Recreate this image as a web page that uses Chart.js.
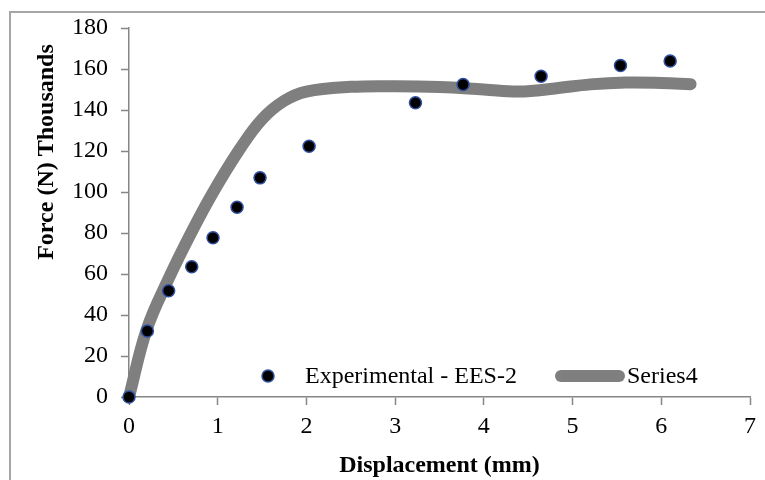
<!DOCTYPE html>
<html>
<head>
<meta charset="utf-8">
<title>Force vs Displacement</title>
<script src="https://cdn.jsdelivr.net/npm/chart.js@4/dist/chart.umd.min.js"></script>
<style>
  html, body { margin: 0; padding: 0; background: #fff; }
  #wrap { position: relative; width: 765px; height: 480px; overflow: hidden; }
  #frame { position: absolute; left: 9px; top: 11px; width: 900px; height: 600px;
           border-left: 2px solid #a6a6a6; border-top: 2px solid #a6a6a6; }
  #chart { position: absolute; left: 0; top: 0; }
</style>
</head>
<body>
<div id="wrap">
  <div id="frame"></div>
  <canvas id="chart" width="765" height="480"></canvas>
</div>
<script>
// ─── Data ──────────────────────────────────────────────────────────────────
const EXP_X = [0, 0.207, 0.447, 0.707, 0.947, 1.218, 1.477, 2.03, 3.229, 3.766, 4.645, 5.54, 6.10];
const EXP_Y = [0, 32.2, 51.8, 63.5, 77.7, 92.6, 106.9, 122.3, 143.5, 152.4, 156.5, 161.7, 163.9];

const S4_X = [0, 0.2, 0.45, 0.7, 0.95, 1.25, 1.5, 1.75, 2.0, 2.5, 3.0, 3.5, 4.0, 4.4, 4.8, 5.2, 5.6, 6.0, 6.33];
const S4_Y = [0, 33, 58, 80, 100, 121, 135.5, 144.5, 149, 151.3, 151.6, 151.2, 150, 149, 150.5, 152.5, 153.4, 153.2, 152.6];

const X_TICKS = [0, 1, 2, 3, 4, 5, 6, 7];
const Y_TICKS = [0, 20, 40, 60, 80, 100, 120, 140, 160, 180];

const LABELS = ['Experimental - EES-2', 'Series4'];
const X_TITLE = 'Displacement (mm)';
const Y_TITLE = 'Force (N) Thousands';

// ─── Style ─────────────────────────────────────────────────────────────────
const SERIF = "'Liberation Serif', 'Times New Roman', serif";
const AXIS_GRAY = '#868686';
const LINE_GRAY = '#7f7f7f';
const DOT_EDGE = '#2f4f9f';

const toPts = (xs, ys) => xs.map((x, i) => ({ x, y: ys[i] }));

// ─── Plugins: in-plot legend + y title ───────────────────────────────────
const insideLegend = {
  id: 'insideLegend',
  afterDatasetsDraw(chart) {
    const { ctx } = chart;
    const y = 376;
    ctx.save();
    ctx.font = `24px ${SERIF}`;
    ctx.textBaseline = 'middle';
    // marker: point
    ctx.beginPath();
    ctx.arc(268, y, 6, 0, Math.PI * 2);
    ctx.fillStyle = '#000';
    ctx.fill();
    ctx.lineWidth = 1.5;
    ctx.strokeStyle = DOT_EDGE;
    ctx.stroke();
    ctx.fillText(LABELS[0], 305, y + 1);
    // marker: thick line
    ctx.beginPath();
    ctx.moveTo(561, y);
    ctx.lineTo(619, y);
    ctx.lineWidth = 12;
    ctx.lineCap = 'round';
    ctx.strokeStyle = LINE_GRAY;
    ctx.stroke();
    ctx.fillText(LABELS[1], 627, y + 1);
    ctx.restore();
  }
};

const yTitle = {
  id: 'yTitle',
  afterDraw(chart) {
    const { ctx } = chart;
    ctx.save();
    ctx.translate(47, 152);
    ctx.rotate(-Math.PI / 2);
    ctx.font = `bold 24px ${SERIF}`;
    ctx.textAlign = 'center';
    ctx.textBaseline = 'middle';
    ctx.fillStyle = '#000';
    ctx.fillText(Y_TITLE, 0, 0);
    ctx.restore();
  }
};

// ─── Chart ─────────────────────────────────────────────────────────────────
const ctx = document.getElementById('chart').getContext('2d');
new Chart(ctx, {
  type: 'scatter',
  data: {
    datasets: [
      {
        label: LABELS[0], data: toPts(EXP_X, EXP_Y), showLine: false, clip: false,
        pointRadius: 6, pointBackgroundColor: '#000', pointBorderColor: DOT_EDGE, pointBorderWidth: 1.5
      },
      {
        label: LABELS[1], data: toPts(S4_X, S4_Y), showLine: true, clip: false,
        borderColor: LINE_GRAY, borderWidth: 12, borderCapStyle: 'round', borderJoinStyle: 'round',
        tension: 0.4, pointRadius: 0
      }
    ]
  },
  options: {
    responsive: false, animation: false, devicePixelRatio: 1,
    layout: { padding: { left: 0, right: 15, top: 28, bottom: 0 } },
    plugins: { legend: { display: false }, tooltip: { enabled: false } },
    scales: {
      x: {
        type: 'linear', min: 0, max: 7,
        afterBuildTicks: s => { s.ticks = X_TICKS.map(v => ({ value: v })); },
        afterFit: s => { s.height = 83; },
        grid: { drawOnChartArea: false, color: AXIS_GRAY, tickLength: 8, tickWidth: 1.5 },
        border: { color: AXIS_GRAY, width: 1.5 },
        ticks: { color: '#000', padding: 7, font: { family: SERIF, size: 24 } },
        title: { display: true, text: X_TITLE, color: '#000', padding: { top: 0, bottom: 0 },
                 font: { family: SERIF, size: 24, weight: 'bold', lineHeight: 1.15 } }
      },
      y: {
        type: 'linear', min: 0, max: 180,
        afterBuildTicks: s => { s.ticks = Y_TICKS.map(v => ({ value: v })); },
        afterFit: s => { s.width = 129; },
        grid: { drawOnChartArea: false, color: AXIS_GRAY, tickLength: 8, tickWidth: 1.5 },
        border: { color: AXIS_GRAY, width: 1.5 },
        ticks: { color: '#000', padding: 13, font: { family: SERIF, size: 24 } }
      }
    }
  },
  plugins: [insideLegend, yTitle]
});
</script>
</body>
</html>
